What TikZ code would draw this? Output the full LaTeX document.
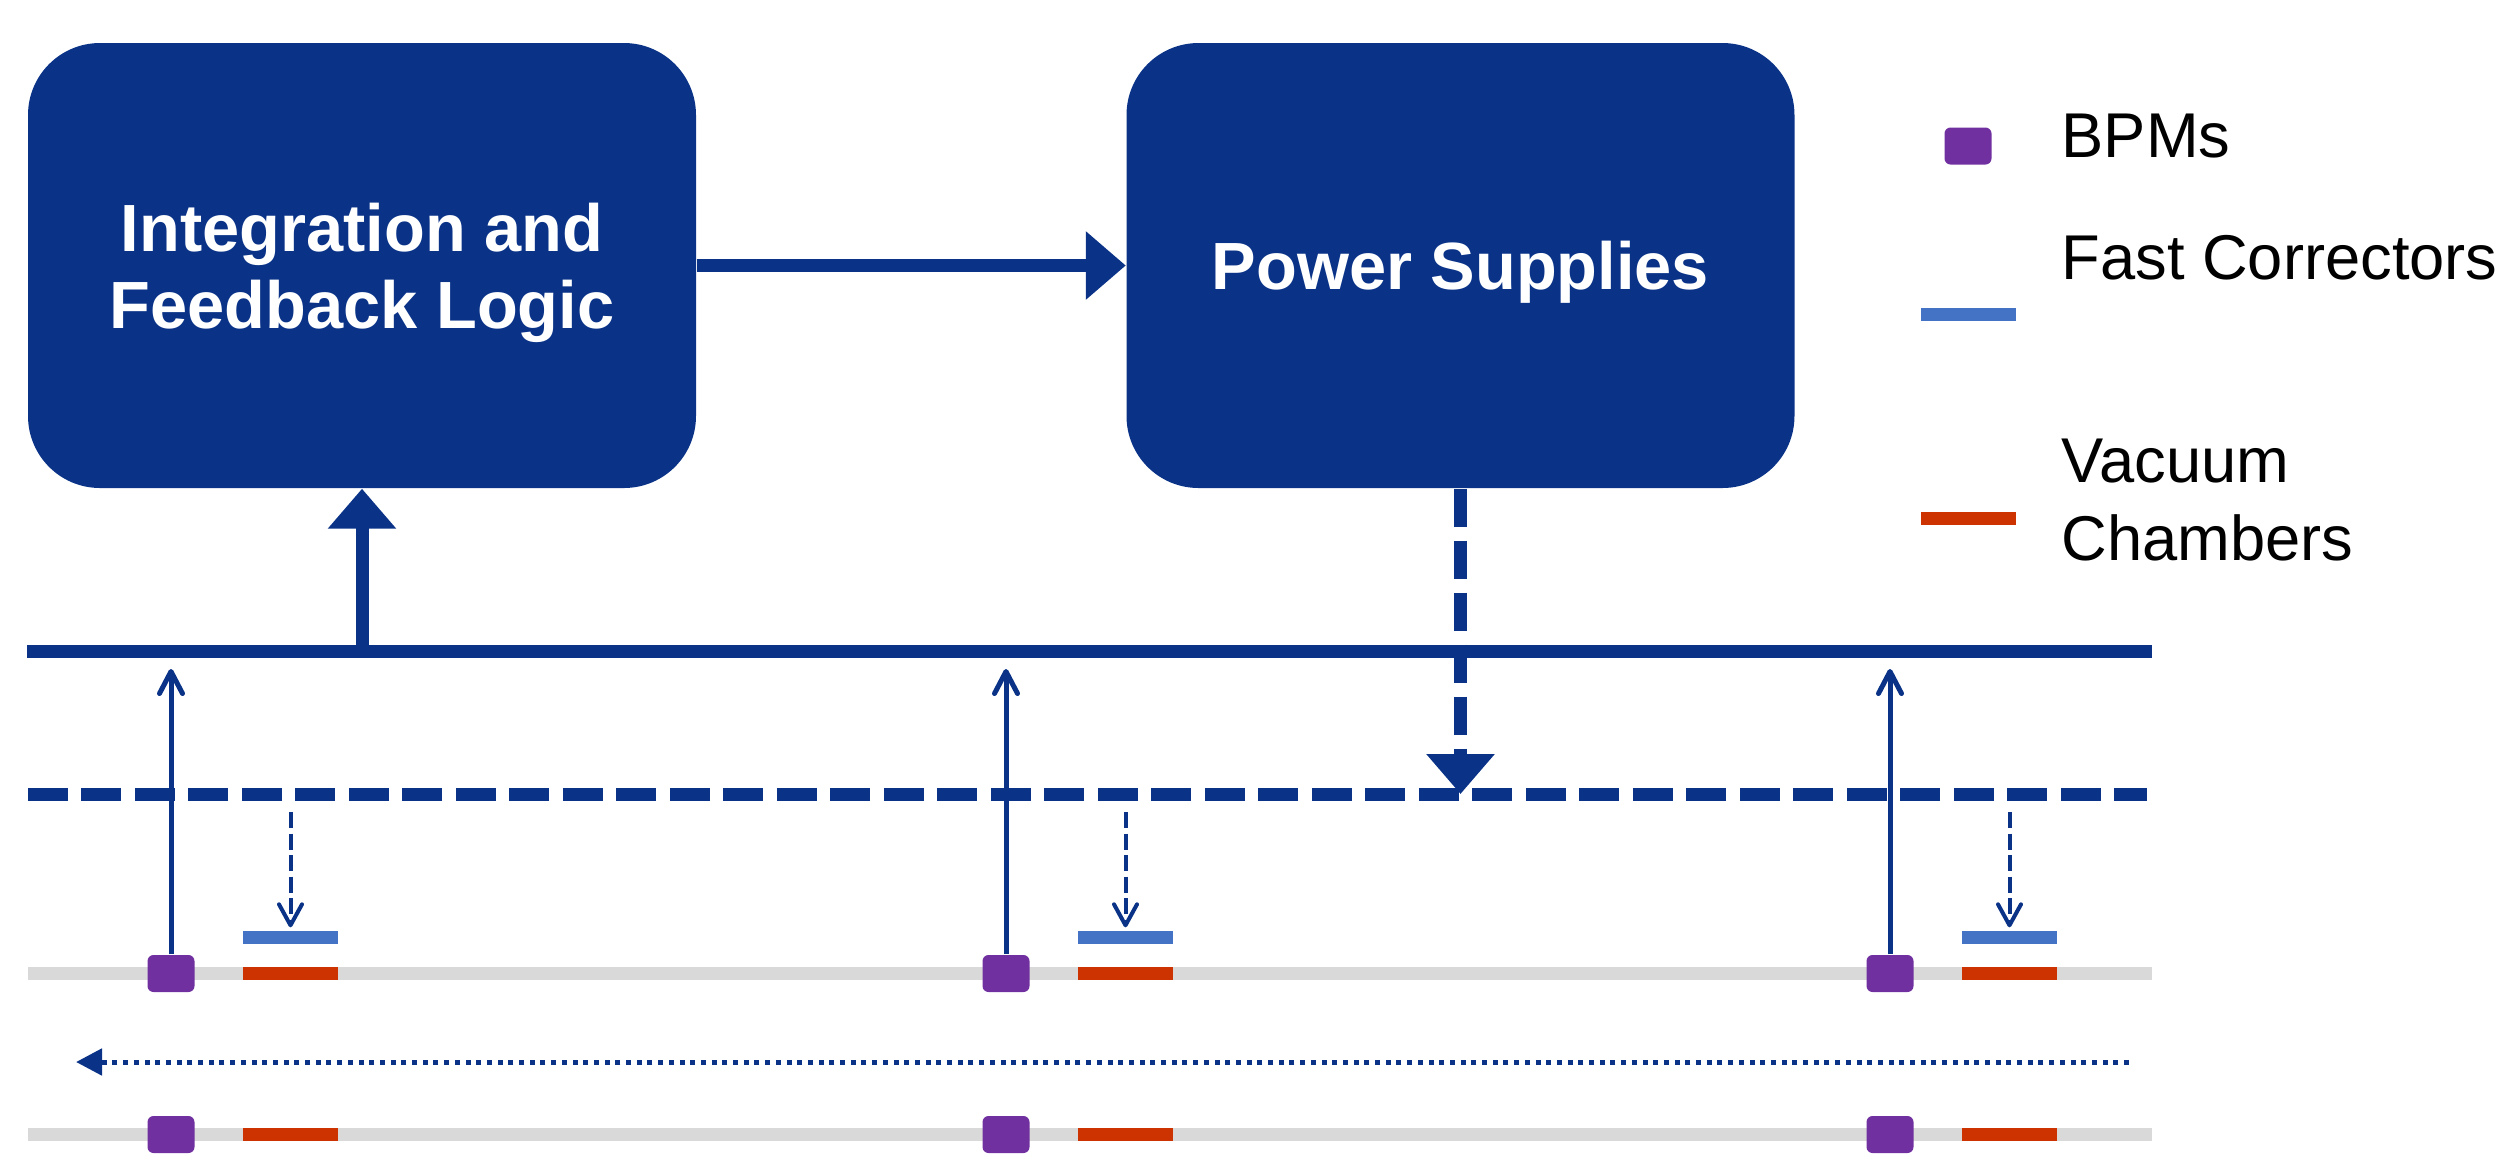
\documentclass[tikz,border=0pt]{standalone}
\usepackage{fontspec}
\setmainfont{Liberation Sans}
\usepackage{tikz}
\usetikzlibrary{arrows.meta, calc, positioning}

\definecolor{navy}{RGB}{10,51,136}
\definecolor{bpmpurple}{RGB}{112,48,160}
\definecolor{fcblue}{RGB}{68,114,196}
\definecolor{vcred}{RGB}{204,51,0}
\definecolor{beamgray}{RGB}{217,217,217}

\tikzset{
  blockbox/.style={fill=navy, rounded corners=7.2mm, minimum width=66.8mm, minimum height=44.5mm,
    text=white, align=center, inner sep=0pt, text depth=0pt, font=\bfseries\fontsize{19}{21.9}\selectfont},
  bpmbox/.style={fill=bpmpurple, rounded corners=0.6mm, minimum width=4.7mm, minimum height=3.7mm, inner sep=0pt},
  fcbar/.style={fill=fcblue, minimum width=9.5mm, minimum height=1.3mm, inner sep=0pt},
  vcbar/.style={fill=vcred, minimum width=9.5mm, minimum height=1.3mm, inner sep=0pt},
  legendtext/.style={inner sep=0pt, align=left, font=\fontsize{18}{22}\selectfont},
  bigarrow/.style={navy, line width=1.3mm, -{Triangle[length=4mm,width=6.6mm]}},
  readarrow/.style={navy, line width=0.5mm, -{Straight Barb[length=2.2mm,width=2.3mm,round]}},
  setarrow/.style={navy, line width=0.4mm, dash pattern=on 1.6mm off 0.55mm, -{Straight Barb[length=2.1mm,width=2.3mm,round]}},
  beamline/.style={beamgray, line width=1.3mm}
}

\begin{document}
\begin{tikzpicture}[x=0.1mm, y=-0.1mm]
\useasboundingbox (0,0) rectangle (2502,1161);

\node[blockbox] (ifl) at (362,265.5) {Integration and\\Feedback Logic};
\node[blockbox] (ps) at (1460.5,265.5) {Power Supplies};

\coordinate (busL) at (27,651);
\coordinate (busR) at (2152,651);
\coordinate (cmdL) at (28,794);
\coordinate (cmdR) at (2147,794);
\coordinate (beamAL) at (28,973.5);
\coordinate (beamAR) at (2152,973.5);
\coordinate (beamBL) at (28,1134.5);
\coordinate (beamBR) at (2152,1134.5);
\coordinate (flowR) at (2129,1062);
\coordinate (flowL) at (76,1062);

\draw[bigarrow] (ifl) -- (ps);
\draw[navy, line width=1.3mm, dash pattern=on 4mm off 1.35mm] (cmdL) -- (cmdR);
\draw[bigarrow, dash pattern=on 3.8mm off 1.4mm] (ps.south) -- (ps.south |- cmdL);
\draw[navy, line width=1.3mm] (busL) -- (busR);
\draw[bigarrow] (ifl.south |- busL) -- (ifl.south);

\draw[beamline] (beamAL) -- (beamAR);
\draw[beamline] (beamBL) -- (beamBR);

\foreach \x [count=\i] in {171,1006,1890} {
  \node[vcbar] (vcA\i) at (\x+119.5,973.5) {};
  \node[fcbar] (fc\i) at (\x+119.5,937.5) {};
  \node[bpmbox] (bpmA\i) at (\x,973.5) {};
  \node[vcbar] (vcB\i) at (\x+119.5,1134.5) {};
  \node[bpmbox] (bpmB\i) at (\x,1134.5) {};
  \draw[readarrow] (bpmA\i.north) -- ([yshift=-1.8mm]bpmA\i.north |- busL);
  \draw[setarrow, shorten >=0.3mm] ([yshift=-1.8mm]fc\i.north |- cmdL) -- (fc\i.north);
}

\draw[navy, line width=0.5mm, dash pattern=on 0.5mm off 0.57mm, -{Triangle[length=2.6mm,width=2.6mm]}] (flowR) -- (flowL);

\node[bpmbox] (legbpm) at (1968,146) {};
\node[legendtext, anchor=base west] (legbpmtext) at (2061,157) {BPMs};
\node[fcbar] (legfc) at (1968,314.6) {};
\node[legendtext, anchor=base west] (legfctext) at (2061,279.5) {Fast Correctors};
\node[vcbar] (legvc) at (1968,518) {};
\node[legendtext, anchor=west] (legvctext) at (2061,500) {Vacuum\\Chambers};
\end{tikzpicture}
\end{document}
